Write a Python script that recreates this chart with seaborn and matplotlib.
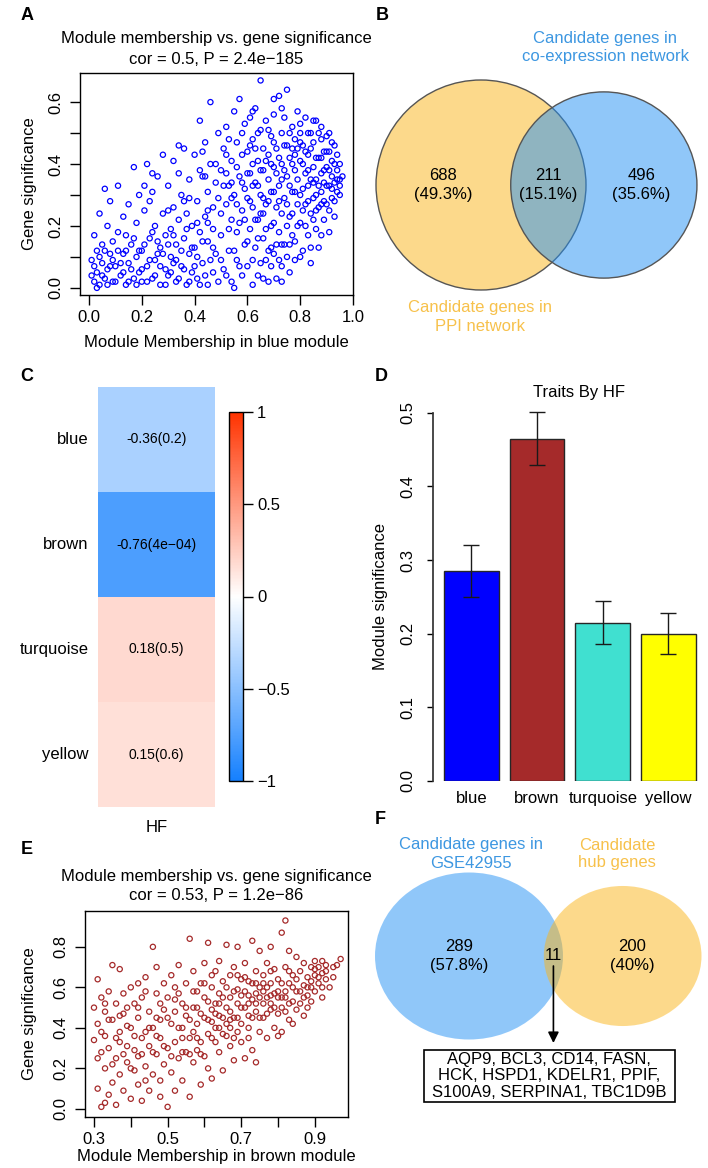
import numpy as np
import matplotlib
matplotlib.use("Agg")
import matplotlib.pyplot as plt
import seaborn as sns
from matplotlib.colors import LinearSegmentedColormap, to_rgba
from matplotlib.patches import Circle, Rectangle

W, H = 708, 1168

# A: module membership vs gene significance, blue module
blue_points = [
    (0.01, 0.09), (0.02, 0.02), (0.02, 0.17), (0.03, 0.05), (0.03, 0.12), (0.04, 0.01), (0.05, 0.08),
    (0.05, 0.14), (0.06, 0.03), (0.07, 0.20), (0.07, 0.06), (0.08, 0.11), (0.08, 0.28), (0.09, 0.02),
    (0.09, 0.15), (0.04, 0.24), (0.06, 0.32),
    (0.10, 0.07), (0.11, 0.33), (0.11, 0.18), (0.12, 0.04), (0.13, 0.23), (0.13, 0.11), (0.14, 0.01),
    (0.15, 0.27), (0.15, 0.08), (0.16, 0.14), (0.17, 0.39), (0.17, 0.03), (0.18, 0.21), (0.18, 0.10),
    (0.19, 0.30), (0.19, 0.05), (0.14, 0.17),
    (0.20, 0.12), (0.20, 0.02), (0.21, 0.25), (0.22, 0.40), (0.22, 0.07), (0.23, 0.16), (0.24, 0.31),
    (0.24, 0.03), (0.25, 0.20), (0.25, 0.09), (0.26, 0.36), (0.27, 0.13), (0.27, 0.01), (0.28, 0.43),
    (0.28, 0.24), (0.29, 0.06), (0.29, 0.17), (0.23, 0.28), (0.26, 0.11),
    (0.30, 0.33), (0.30, 0.04), (0.31, 0.19), (0.31, 0.10), (0.32, 0.41), (0.32, 0.26), (0.33, 0.02),
    (0.33, 0.14), (0.34, 0.37), (0.34, 0.22), (0.35, 0.07), (0.35, 0.30), (0.36, 0.45), (0.36, 0.16),
    (0.37, 0.01), (0.37, 0.24), (0.38, 0.11), (0.38, 0.35), (0.39, 0.05), (0.39, 0.20), (0.34, 0.46),
    (0.36, 0.28), (0.32, 0.08),
    (0.40, 0.43), (0.40, 0.13), (0.41, 0.28), (0.41, 0.03), (0.42, 0.18), (0.42, 0.54), (0.43, 0.36),
    (0.43, 0.08), (0.44, 0.23), (0.44, 0.47), (0.45, 0.01), (0.45, 0.31), (0.45, 0.15), (0.46, 0.40),
    (0.46, 0.60), (0.47, 0.05), (0.47, 0.26), (0.47, 0.19), (0.48, 0.34), (0.48, 0.11), (0.49, 0.50),
    (0.49, 0.02), (0.49, 0.29), (0.43, 0.44), (0.41, 0.21), (0.46, 0.09),
    (0.50, 0.38), (0.50, 0.17), (0.51, 0.06), (0.51, 0.45), (0.52, 0.27), (0.52, 0.52), (0.53, 0.12),
    (0.53, 0.33), (0.54, 0.02), (0.54, 0.41), (0.54, 0.22), (0.55, 0.57), (0.55, 0.30), (0.56, 0.09),
    (0.56, 0.47), (0.56, 0.18), (0.57, 0.36), (0.57, 0.61), (0.58, 0.04), (0.58, 0.25), (0.58, 0.43),
    (0.59, 0.14), (0.59, 0.53), (0.59, 0.32), (0.52, 0.37), (0.55, 0.00), (0.57, 0.21), (0.53, 0.48),
    (0.60, 0.29), (0.60, 0.44), (0.60, 0.07), (0.61, 0.55), (0.61, 0.19), (0.61, 0.37), (0.62, 0.01),
    (0.62, 0.48), (0.62, 0.26), (0.63, 0.13), (0.63, 0.58), (0.63, 0.34), (0.64, 0.41), (0.64, 0.04),
    (0.64, 0.22), (0.65, 0.51), (0.65, 0.30), (0.65, 0.67), (0.66, 0.16), (0.66, 0.45), (0.66, 0.38),
    (0.67, 0.09), (0.67, 0.27), (0.67, 0.54), (0.68, 0.35), (0.68, 0.02), (0.68, 0.43), (0.69, 0.20),
    (0.69, 0.49), (0.69, 0.31), (0.62, 0.40), (0.66, 0.24), (0.64, 0.33),
    (0.70, 0.39), (0.70, 0.11), (0.70, 0.56), (0.71, 0.26), (0.71, 0.45), (0.71, 0.03), (0.72, 0.33),
    (0.72, 0.62), (0.72, 0.18), (0.73, 0.50), (0.73, 0.07), (0.73, 0.40), (0.74, 0.29), (0.74, 0.55),
    (0.74, 0.14), (0.75, 0.36), (0.75, 0.46), (0.75, 0.64), (0.76, 0.23), (0.76, 0.05), (0.76, 0.42),
    (0.77, 0.31), (0.77, 0.52), (0.77, 0.17), (0.78, 0.38), (0.78, 0.09), (0.78, 0.48), (0.79, 0.27),
    (0.79, 0.57), (0.79, 0.35), (0.72, 0.28), (0.75, 0.20), (0.78, 0.43), (0.73, 0.35),
    (0.80, 0.41), (0.80, 0.21), (0.80, 0.53), (0.81, 0.32), (0.81, 0.12), (0.81, 0.46), (0.82, 0.37),
    (0.82, 0.27), (0.82, 0.55), (0.83, 0.17), (0.83, 0.43), (0.83, 0.33), (0.84, 0.50), (0.84, 0.24),
    (0.84, 0.08), (0.85, 0.39), (0.85, 0.29), (0.85, 0.47), (0.86, 0.35), (0.86, 0.19), (0.86, 0.54),
    (0.87, 0.42), (0.87, 0.26), (0.87, 0.13), (0.88, 0.37), (0.88, 0.48), (0.88, 0.31), (0.89, 0.22),
    (0.89, 0.44), (0.89, 0.34), (0.83, 0.38), (0.86, 0.30),
    (0.90, 0.39), (0.90, 0.27), (0.90, 0.49), (0.91, 0.33), (0.91, 0.18), (0.91, 0.44), (0.92, 0.36),
    (0.92, 0.29), (0.92, 0.41), (0.93, 0.23), (0.93, 0.46), (0.93, 0.34), (0.94, 0.38), (0.94, 0.31),
    (0.95, 0.35), (0.95, 0.30), (0.96, 0.36), (0.94, 0.43),
    # denser low band and core
    (0.01, 0.04), (0.02, 0.07), (0.03, 0.00), (0.04, 0.10), (0.05, 0.04), (0.06, 0.12), (0.07, 0.01),
    (0.08, 0.07), (0.09, 0.09), (0.10, 0.02), (0.11, 0.12), (0.12, 0.08), (0.13, 0.05), (0.14, 0.12),
    (0.15, 0.02), (0.16, 0.06), (0.17, 0.16), (0.18, 0.01), (0.19, 0.12), (0.20, 0.06), (0.21, 0.14),
    (0.22, 0.02), (0.23, 0.09), (0.24, 0.18), (0.25, 0.04), (0.26, 0.15), (0.27, 0.07), (0.28, 0.11),
    (0.29, 0.01), (0.30, 0.14), (0.31, 0.05), (0.32, 0.17), (0.33, 0.09), (0.34, 0.03), (0.35, 0.12),
    (0.36, 0.06), (0.37, 0.19), (0.38, 0.02), (0.39, 0.13), (0.40, 0.07), (0.41, 0.10), (0.42, 0.01),
    (0.43, 0.15), (0.44, 0.04), (0.45, 0.21), (0.21, 0.33), (0.24, 0.37), (0.30, 0.25), (0.38, 0.29),
    (0.42, 0.38),
    (0.50, 0.24), (0.51, 0.33), (0.52, 0.04), (0.53, 0.19), (0.54, 0.29), (0.55, 0.12), (0.56, 0.39),
    (0.57, 0.07), (0.58, 0.34), (0.59, 0.22), (0.60, 0.37), (0.60, 0.15), (0.61, 0.28), (0.61, 0.46),
    (0.62, 0.09), (0.62, 0.33), (0.63, 0.22), (0.63, 0.45), (0.64, 0.16), (0.64, 0.50), (0.65, 0.08),
    (0.65, 0.38), (0.66, 0.29), (0.66, 0.03), (0.67, 0.41), (0.67, 0.19), (0.68, 0.12), (0.68, 0.28),
    (0.69, 0.40), (0.69, 0.07), (0.70, 0.21), (0.70, 0.47), (0.70, 0.31), (0.71, 0.14), (0.71, 0.37),
    (0.72, 0.09), (0.72, 0.42), (0.73, 0.24), (0.73, 0.14), (0.74, 0.38), (0.74, 0.46), (0.75, 0.27),
    (0.75, 0.10), (0.76, 0.33), (0.76, 0.50), (0.77, 0.40), (0.77, 0.24), (0.78, 0.15), (0.78, 0.31),
    (0.79, 0.45), (0.79, 0.20), (0.80, 0.30), (0.80, 0.47), (0.81, 0.40), (0.81, 0.25), (0.82, 0.44),
    (0.82, 0.20), (0.83, 0.28), (0.83, 0.50), (0.84, 0.35), (0.84, 0.45), (0.85, 0.22), (0.85, 0.34),
    (0.86, 0.42), (0.86, 0.25), (0.87, 0.33), (0.87, 0.50), (0.88, 0.27), (0.88, 0.42), (0.89, 0.38),
    (0.89, 0.28), (0.90, 0.33), (0.90, 0.44), (0.91, 0.38), (0.91, 0.25), (0.92, 0.32), (0.92, 0.47),
    (0.93, 0.40), (0.93, 0.28), (0.94, 0.35), (0.95, 0.40), (0.95, 0.33), (0.88, 0.17), (0.84, 0.13),
    (0.80, 0.10), (0.76, 0.14), (0.73, 0.02), (0.69, 0.13), (0.65, 0.24), (0.58, 0.50), (0.54, 0.34),
    (0.52, 0.43), (0.48, 0.40), (0.47, 0.13), (0.45, 0.25), (0.44, 0.36), (0.50, 0.09), (0.56, 0.27),
    (0.62, 0.57), (0.68, 0.51), (0.70, 0.61), (0.73, 0.58), (0.77, 0.45), (0.80, 0.50), (0.85, 0.54),
    (0.88, 0.52), (0.91, 0.50),
]

# E: same for the brown module
brown_points = [
    (0.30, 0.34), (0.30, 0.50), (0.31, 0.10), (0.31, 0.42), (0.31, 0.64), (0.32, 0.28), (0.32, 0.55),
    (0.32, 0.01), (0.33, 0.20), (0.33, 0.48), (0.33, 0.36), (0.34, 0.07), (0.34, 0.58), (0.34, 0.30),
    (0.35, 0.71), (0.35, 0.44), (0.35, 0.13), (0.33, 0.03),
    (0.36, 0.25), (0.36, 0.52), (0.36, 0.02), (0.37, 0.38), (0.37, 0.69), (0.37, 0.17), (0.38, 0.47),
    (0.38, 0.09), (0.38, 0.57), (0.39, 0.31), (0.39, 0.23), (0.39, 0.50), (0.40, 0.40), (0.40, 0.05),
    (0.40, 0.60), (0.37, 0.33),
    (0.41, 0.19), (0.41, 0.52), (0.41, 0.36), (0.42, 0.12), (0.42, 0.62), (0.42, 0.45), (0.43, 0.27),
    (0.43, 0.55), (0.43, 0.04), (0.44, 0.38), (0.44, 0.21), (0.44, 0.65), (0.45, 0.48), (0.45, 0.09),
    (0.45, 0.31), (0.42, 0.26), (0.44, 0.58),
    (0.46, 0.80), (0.46, 0.40), (0.46, 0.17), (0.47, 0.57), (0.47, 0.27), (0.47, 0.70), (0.48, 0.44),
    (0.48, 0.06), (0.48, 0.35), (0.49, 0.62), (0.49, 0.22), (0.49, 0.49), (0.50, 0.01), (0.50, 0.30),
    (0.50, 0.55), (0.47, 0.45), (0.48, 0.14),
    (0.51, 0.42), (0.51, 0.66), (0.51, 0.18), (0.52, 0.48), (0.52, 0.09), (0.52, 0.33), (0.53, 0.57),
    (0.53, 0.25), (0.53, 0.71), (0.54, 0.40), (0.54, 0.14), (0.54, 0.52), (0.55, 0.28), (0.55, 0.62),
    (0.55, 0.46), (0.52, 0.60), (0.54, 0.35),
    (0.56, 0.84), (0.56, 0.35), (0.56, 0.06), (0.57, 0.50), (0.57, 0.23), (0.57, 0.68), (0.58, 0.42),
    (0.58, 0.29), (0.58, 0.58), (0.59, 0.12), (0.59, 0.47), (0.59, 0.33), (0.60, 0.55), (0.60, 0.26),
    (0.60, 0.72), (0.57, 0.38), (0.59, 0.62),
    (0.61, 0.82), (0.61, 0.44), (0.61, 0.20), (0.62, 0.60), (0.62, 0.35), (0.62, 0.15), (0.63, 0.52),
    (0.63, 0.68), (0.63, 0.40), (0.64, 0.28), (0.64, 0.57), (0.64, 0.46), (0.65, 0.19), (0.65, 0.63),
    (0.65, 0.37), (0.62, 0.49), (0.64, 0.73),
    (0.66, 0.81), (0.66, 0.50), (0.66, 0.42), (0.67, 0.31), (0.67, 0.66), (0.67, 0.55), (0.68, 0.45),
    (0.68, 0.70), (0.68, 0.24), (0.69, 0.59), (0.69, 0.38), (0.69, 0.80), (0.70, 0.50), (0.70, 0.64),
    (0.70, 0.33), (0.67, 0.44), (0.69, 0.52),
    (0.71, 0.58), (0.71, 0.25), (0.71, 0.72), (0.72, 0.46), (0.72, 0.63), (0.72, 0.40), (0.73, 0.83),
    (0.73, 0.54), (0.73, 0.29), (0.74, 0.68), (0.74, 0.48), (0.74, 0.23), (0.75, 0.60), (0.75, 0.38),
    (0.75, 0.78), (0.72, 0.52), (0.74, 0.57),
    (0.76, 0.66), (0.76, 0.45), (0.77, 0.55), (0.77, 0.72), (0.77, 0.35), (0.78, 0.62), (0.78, 0.49),
    (0.78, 0.80), (0.79, 0.40), (0.79, 0.69), (0.79, 0.57), (0.80, 0.47), (0.80, 0.36), (0.80, 0.64),
    (0.76, 0.58), (0.78, 0.52),
    (0.81, 0.87), (0.81, 0.55), (0.81, 0.38), (0.82, 0.70), (0.82, 0.48), (0.82, 0.93), (0.83, 0.62),
    (0.83, 0.44), (0.83, 0.78), (0.84, 0.53), (0.84, 0.66), (0.84, 0.42), (0.85, 0.58), (0.85, 0.75),
    (0.85, 0.49), (0.82, 0.58),
    (0.86, 0.68), (0.86, 0.52), (0.87, 0.61), (0.87, 0.46), (0.87, 0.72), (0.88, 0.56), (0.88, 0.65),
    (0.88, 0.50), (0.89, 0.70), (0.89, 0.60), (0.89, 0.53), (0.90, 0.66), (0.90, 0.58), (0.90, 0.73),
    (0.91, 0.62), (0.91, 0.70), (0.92, 0.55), (0.92, 0.67), (0.92, 0.73), (0.93, 0.64), (0.93, 0.71),
    (0.94, 0.60), (0.95, 0.65), (0.96, 0.71), (0.97, 0.74),
    # denser middle of the cloud
    (0.31, 0.25), (0.32, 0.38), (0.33, 0.52), (0.34, 0.44), (0.35, 0.22), (0.36, 0.35), (0.37, 0.46),
    (0.38, 0.27), (0.39, 0.41), (0.40, 0.20), (0.41, 0.29), (0.42, 0.50), (0.43, 0.35), (0.44, 0.14),
    (0.45, 0.40), (0.46, 0.28), (0.47, 0.36), (0.48, 0.52), (0.49, 0.31), (0.50, 0.45), (0.51, 0.26),
    (0.52, 0.54), (0.53, 0.40), (0.54, 0.28), (0.55, 0.50), (0.56, 0.44), (0.56, 0.27), (0.57, 0.58),
    (0.58, 0.35), (0.58, 0.50), (0.59, 0.27), (0.60, 0.45), (0.60, 0.62), (0.61, 0.37), (0.61, 0.53),
    (0.62, 0.43), (0.62, 0.66), (0.63, 0.47), (0.63, 0.33), (0.64, 0.52), (0.64, 0.40), (0.65, 0.45),
    (0.65, 0.55), (0.66, 0.36), (0.66, 0.60), (0.67, 0.48), (0.67, 0.40), (0.68, 0.58), (0.68, 0.35),
    (0.69, 0.45), (0.69, 0.66), (0.70, 0.56), (0.70, 0.42), (0.71, 0.50), (0.71, 0.65), (0.72, 0.56),
    (0.72, 0.35), (0.73, 0.62), (0.73, 0.45), (0.74, 0.52), (0.74, 0.62), (0.75, 0.55), (0.75, 0.45),
    (0.76, 0.52), (0.76, 0.62), (0.77, 0.60), (0.77, 0.47), (0.78, 0.56), (0.78, 0.68), (0.79, 0.50),
    (0.80, 0.55), (0.80, 0.58), (0.81, 0.50), (0.81, 0.62), (0.82, 0.55), (0.83, 0.52), (0.83, 0.68),
    (0.84, 0.60), (0.85, 0.64), (0.86, 0.58), (0.87, 0.55), (0.88, 0.60), (0.89, 0.63), (0.90, 0.69),
    (0.91, 0.65), (0.92, 0.60), (0.93, 0.68), (0.95, 0.70),
]

# B: venn of PPI network vs co-expression network
venn_b_counts = [688, 211, 496]
venn_b_pcts = ["49.3%", "15.1%", "35.6%"]
# F: venn of GSE42955 vs hub genes
venn_f_counts = [289, 11, 200]
venn_f_pcts = ["57.8%", None, "40%"]
hub_genes = ["AQP9", "BCL3", "CD14", "FASN", "HCK", "HSPD1", "KDELR1", "PPIF",
             "S100A9", "SERPINA1", "TBC1D9B"]

# C: module-trait correlation with HF
modules = ["blue", "brown", "turquoise", "yellow"]
hf_cor = [-0.36, -0.76, 0.18, 0.15]
hf_p = ["0.2", "4e\u221204", "0.5", "0.6"]

# D: module significance (mean and error)
ms_mean = [0.285, 0.465, 0.215, 0.200]
ms_err = [0.035, 0.036, 0.029, 0.028]
bar_colors = ["#0000FF", "#A52A2A", "#40E0D0", "#FFFF00"]

sns.set_theme(style="white")
plt.rcParams["font.family"] = ["Liberation Sans", "DejaVu Sans"]
plt.rcParams["text.color"] = "black"
plt.rcParams["axes.labelcolor"] = "black"

fig = plt.figure(figsize=(W / 100, H / 100), dpi=100)


def px_axes(left, top, right, bottom):
    return fig.add_axes([left / W, 1 - bottom / H, (right - left) / W, (bottom - top) / H])


def px_text(x, y, s, **kw):
    kw.setdefault("ha", "center")
    kw.setdefault("va", "center")
    kw.setdefault("fontsize", 12)
    return fig.text(x / W, 1 - y / H, s, **kw)


def module_scatter(ax, pts, color, xlim, ylim):
    xs = [p[0] for p in pts]
    ys = [p[1] for p in pts]
    sns.scatterplot(x=xs, y=ys, color=color, s=14, linewidth=0.9, ax=ax, legend=False)
    ax.collections[0].set_facecolor("none")
    ax.collections[0].set_edgecolor(color)
    ax.set_xlim(*xlim)
    ax.set_ylim(*ylim)
    for sp in ax.spines.values():
        sp.set_visible(True)
        sp.set_color("black")
        sp.set_linewidth(1)
    ax.tick_params(axis="both", direction="out", length=7, width=1, colors="black",
                   labelsize=12, left=True, bottom=True)
    ax.tick_params(axis="x", pad=4)
    ax.tick_params(axis="y", pad=5)


def lens_area(r1, r2, d):
    if d >= r1 + r2:
        return 0.0
    if d <= abs(r1 - r2):
        return np.pi * min(r1, r2) ** 2
    a1 = np.arccos((d * d + r1 * r1 - r2 * r2) / (2 * d * r1))
    a2 = np.arccos((d * d + r2 * r2 - r1 * r1) / (2 * d * r2))
    k = np.sqrt((-d + r1 + r2) * (d + r1 - r2) * (d - r1 + r2) * (d + r1 + r2))
    return r1 * r1 * a1 + r2 * r2 * a2 - 0.5 * k


def venn_geometry(n1, n12, n2):
    # area proportional circles, distance found by bisection
    r1 = np.sqrt((n1 + n12) / np.pi)
    r2 = np.sqrt((n2 + n12) / np.pi)
    lo, hi = abs(r1 - r2), r1 + r2
    for _ in range(60):
        mid = (lo + hi) / 2
        if lens_area(r1, r2, mid) > n12:
            lo = mid
        else:
            hi = mid
    return r1, r2, (lo + hi) / 2


def draw_venn(ax, counts, pcts, colors, edge):
    r1, r2, d = venn_geometry(*counts)
    for (cx, r, col) in [(0, r1, colors[0]), (d, r2, colors[1])]:
        ax.add_patch(Circle((cx, 0), r, facecolor=to_rgba(col, 0.5),
                            edgecolor=edge if edge else "none", linewidth=1))
    xs = [(-r1 + d - r2) / 2, (d - r2 + r1) / 2, (r1 + d + r2) / 2]
    for x, n, p in zip(xs, counts, pcts):
        if p is None:
            ax.text(x, 0, str(n), ha="center", va="center", fontsize=12)
        else:
            ax.annotate(str(n), (x, 0), xytext=(0, 6.8), textcoords="offset points",
                        ha="center", va="center", fontsize=12)
            ax.annotate("(" + p + ")", (x, 0), xytext=(0, -6.8), textcoords="offset points",
                        ha="center", va="center", fontsize=12)
    ax.axis("off")
    return r1, r2, d, xs


# ---- A
ax_a = px_axes(80, 73, 353, 295)
module_scatter(ax_a, blue_points, "#0000FF", (-0.034, 0.996), (-0.023, 0.694))
ax_a.set_xticks([0, 0.2, 0.4, 0.6, 0.8, 1.0])
ax_a.set_xticklabels(["0.0", "0.2", "0.4", "0.6", "0.8", "1.0"])
ax_a.set_yticks([0, 0.1, 0.2, 0.3, 0.4, 0.5, 0.6])
ax_a.set_yticklabels(["0.0", "", "0.2", "", "0.4", "", "0.6"], rotation=90, va="center")
px_text(216, 38, "Module membership vs. gene significance")
px_text(216, 60, "cor = 0.5, P = 2.4e\u2212185")
px_text(216, 343, "Module Membership in blue module")
px_text(30, 184, "Gene significance", rotation=90)

# ---- E
ax_e = px_axes(85, 911, 348, 1117)
module_scatter(ax_e, brown_points, "#A52A2A", (0.2756, 0.99), (-0.04, 0.977))
ax_e.set_xticks([0.3, 0.4, 0.5, 0.6, 0.7, 0.8, 0.9])
ax_e.set_xticklabels(["0.3", "", "0.5", "", "0.7", "", "0.9"])
ax_e.set_yticks([0, 0.2, 0.4, 0.6, 0.8])
ax_e.set_yticklabels(["0.0", "0.2", "0.4", "0.6", "0.8"], rotation=90, va="center")
px_text(216, 877, "Module membership vs. gene significance")
px_text(216, 895, "cor = 0.53, P = 1.2e\u221286")
px_text(216, 1156, "Module Membership in brown module")
px_text(30, 1014, "Gene significance", rotation=90)

# ---- B venn
yellow_base, blue_base = "#FBB519", "#2391F5"
ax_b = px_axes(360, 70, 708, 300)
b_r1, b_r2, b_d, _ = draw_venn(ax_b, venn_b_counts, venn_b_pcts, [yellow_base, blue_base], "#555555")
sb = 105 / b_r1
ax_b.set_xlim((360 - 481) / sb, (708 - 481) / sb)
ax_b.set_ylim((185 - 300) / sb, (185 - 70) / sb)
px_text(605, 38, "Candidate genes in", color="#3D97E1")
px_text(605, 57, "co-expression network", color="#3D97E1")
px_text(480, 307, "Candidate genes in", color="#F7C14B")
px_text(480, 326, "PPI network", color="#F7C14B")

# ---- F venn
ax_f = px_axes(360, 830, 708, 1050)
f_r1, f_r2, f_d, f_xs = draw_venn(ax_f, venn_f_counts, venn_f_pcts, [blue_base, yellow_base], None)
sfx, sfy = 94 / f_r1, 83.5 / f_r1
ax_f.set_xlim((360 - 469) / sfx, (708 - 469) / sfx)
ax_f.set_ylim((956 - 1050) / sfy, (956 - 830) / sfy)
ax_f.annotate("", xy=(f_xs[1], H - 1043), xycoords=("data", "figure pixels"),
              xytext=(f_xs[1], H - 966), textcoords=("data", "figure pixels"),
              arrowprops=dict(arrowstyle="-|>", color="black", lw=1.2, mutation_scale=16,
                              shrinkA=0, shrinkB=0))
px_text(471, 845, "Candidate genes in", color="#3D97E1")
px_text(471, 863, "GSE42955", color="#3D97E1")
px_text(617, 845, "Candidate", color="#F7C14B")
px_text(617, 863, "hub genes", color="#F7C14B")
gene_lines = [", ".join(hub_genes[0:4]) + ",", ", ".join(hub_genes[4:8]) + ",", ", ".join(hub_genes[8:])]
px_text(549, 1076, "\n".join(gene_lines), linespacing=1.1)
fig.add_artist(Rectangle((424 / W, 1 - 1102 / H), 251 / W, 52 / H, transform=fig.transFigure,
                         fill=False, edgecolor="black", linewidth=1.2))

# ---- C heatmap
cmap = LinearSegmentedColormap.from_list("bwr_wgcna", ["#1580FE", "#FFFFFF", "#FF3300"])
ax_c = px_axes(98, 387, 215, 807)
cax = px_axes(229, 412, 243, 781)
annot = np.array([[f"{c}({p})"] for c, p in zip(hf_cor, hf_p)])
sns.heatmap(np.array(hf_cor).reshape(-1, 1), ax=ax_c, cbar_ax=cax, cmap=cmap, vmin=-1, vmax=1,
            annot=annot, fmt="", annot_kws={"fontsize": 10, "color": "black"},
            xticklabels=["HF"], yticklabels=modules)
ax_c.tick_params(axis="both", length=0, labelsize=12, colors="black")
ax_c.tick_params(axis="y", pad=7, labelrotation=0)
ax_c.tick_params(axis="x", pad=9)
cbar = ax_c.collections[0].colorbar
cbar.set_ticks([-1, -0.5, 0, 0.5, 1])
cbar.set_ticklabels(["\u22121", "\u22120.5", "0", "0.5", "1"])
cbar.outline.set_linewidth(1)
cbar.outline.set_edgecolor("black")
cax.tick_params(right=True, length=7, width=1, labelsize=12, colors="black", pad=3)

# ---- D barplot
ax_d = px_axes(433, 398, 700, 781)
sns.barplot(x=modules, y=ms_mean, hue=modules, palette=bar_colors, saturation=1, width=0.833,
            edgecolor="#262626", linewidth=1, errorbar=None, legend=False, ax=ax_d)
ax_d.errorbar(x=np.arange(len(modules)), y=ms_mean, yerr=ms_err, fmt="none", ecolor="#1a1a1a",
              elinewidth=1, capsize=5.5, capthick=1)
ax_d.set_xlim(-0.584, 3.48)
ax_d.set_ylim(0, 0.52)
sns.despine(ax=ax_d, bottom=True)
ax_d.spines["left"].set_bounds(0, 0.5)
ax_d.spines["left"].set_color("#333333")
ax_d.set_yticks([0, 0.1, 0.2, 0.3, 0.4, 0.5])
ax_d.set_yticklabels(["0.0", "0.1", "0.2", "0.3", "0.4", "0.5"], rotation=90, va="center")
ax_d.tick_params(axis="y", left=True, length=4, width=1, labelsize=12, pad=9, colors="black")
ax_d.tick_params(axis="x", length=0, labelsize=12, pad=7, colors="black")
ax_d.set_xlabel("")
ax_d.set_ylabel("")
px_text(579, 393, "Traits By HF")
px_text(381, 597, "Module significance", rotation=90)

# panel letters
for lab, x, y in [("A", 27, 15), ("B", 382, 15), ("C", 27, 377), ("D", 381, 377),
                  ("E", 27, 850), ("F", 380, 820)]:
    px_text(x, y, lab, fontweight="bold", fontsize=13)

fig.savefig("out.png", dpi=100)
